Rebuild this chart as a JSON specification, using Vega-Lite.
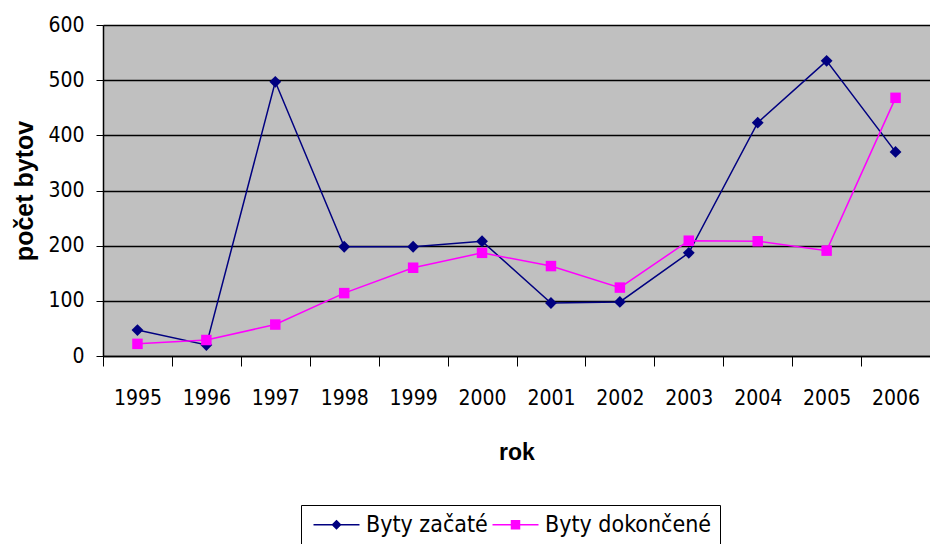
{
  "$schema": "https://vega.github.io/schema/vega-lite/v6.json",
  "autosize": "none",
  "width": 827,
  "height": 331,
  "padding": {"left": 103, "top": 25, "right": 0, "bottom": 188},
  "background": "white",
  "config": {
    "view": {"fill": "#c0c0c0", "stroke": "#a0a0a0"},
    "font": "DejaVu Sans Condensed"
  },
  "data": {
    "values": [
      {"rok": "1995", "seria": "Byty začaté", "pocet": 47},
      {"rok": "1996", "seria": "Byty začaté", "pocet": 20},
      {"rok": "1997", "seria": "Byty začaté", "pocet": 497},
      {"rok": "1998", "seria": "Byty začaté", "pocet": 198},
      {"rok": "1999", "seria": "Byty začaté", "pocet": 198},
      {"rok": "2000", "seria": "Byty začaté", "pocet": 208},
      {"rok": "2001", "seria": "Byty začaté", "pocet": 96},
      {"rok": "2002", "seria": "Byty začaté", "pocet": 98},
      {"rok": "2003", "seria": "Byty začaté", "pocet": 187},
      {"rok": "2004", "seria": "Byty začaté", "pocet": 423},
      {"rok": "2005", "seria": "Byty začaté", "pocet": 535},
      {"rok": "2006", "seria": "Byty začaté", "pocet": 370},
      {"rok": "1995", "seria": "Byty dokončené", "pocet": 22},
      {"rok": "1996", "seria": "Byty dokončené", "pocet": 29},
      {"rok": "1997", "seria": "Byty dokončené", "pocet": 57},
      {"rok": "1998", "seria": "Byty dokončené", "pocet": 114},
      {"rok": "1999", "seria": "Byty dokončené", "pocet": 160},
      {"rok": "2000", "seria": "Byty dokončené", "pocet": 187},
      {"rok": "2001", "seria": "Byty dokončené", "pocet": 163},
      {"rok": "2002", "seria": "Byty dokončené", "pocet": 124},
      {"rok": "2003", "seria": "Byty dokončené", "pocet": 209},
      {"rok": "2004", "seria": "Byty dokončené", "pocet": 208},
      {"rok": "2005", "seria": "Byty dokončené", "pocet": 191},
      {"rok": "2006", "seria": "Byty dokončené", "pocet": 468}
    ]
  },
  "encoding": {
    "x": {
      "field": "rok",
      "type": "ordinal",
      "bandPosition": 0.5,
      "scale": {"type": "band", "paddingInner": 0, "paddingOuter": 0},
      "axis": {
        "title": "rok",
        "titleFont": "Liberation Sans",
        "titleFontSize": 23,
        "titleFontWeight": "bold",
        "titleColor": "black",
        "titlePadding": 33,
        "labelAngle": 0,
        "labelFontSize": 21,
        "labelColor": "black",
        "labelPadding": 21,
        "tickBand": "extent",
        "tickSize": 10,
        "tickColor": "black",
        "domainColor": "black",
        "domainWidth": 1.5,
        "grid": false
      }
    },
    "y": {
      "field": "pocet",
      "type": "quantitative",
      "scale": {"domain": [0, 600], "nice": false},
      "axis": {
        "title": "počet bytov",
        "titleFont": "Liberation Sans",
        "titleFontSize": 25,
        "titleFontWeight": "bold",
        "titleColor": "black",
        "titlePadding": 10,
        "values": [0, 100, 200, 300, 400, 500, 600],
        "labelFontSize": 21,
        "labelColor": "black",
        "labelPadding": 12,
        "tickSize": 7,
        "tickColor": "black",
        "domainColor": "black",
        "domainWidth": 1.5,
        "grid": true,
        "gridColor": "black",
        "gridWidth": 1.5
      }
    },
    "color": {
      "field": "seria",
      "type": "nominal",
      "scale": {"domain": ["Byty začaté", "Byty dokončené"], "range": ["#000080", "#ff00ff"]},
      "legend": {
        "title": null,
        "orient": "none",
        "direction": "horizontal",
        "legendX": 198,
        "legendY": 480,
        "strokeColor": "black",
        "padding": 8,
        "labelFontSize": 23,
        "labelLimit": 400,
        "labelColor": "black",
        "labelOffset": 34,
        "columnPadding": -8,
        "symbolSize": 100,
        "encode": {
          "symbols": {
            "update": {
              "shape": {"signal": "datum.value === 'Byty začaté' ? 'M-1.4,0L7.8,0M3.2,-0.8L4,0L3.2,0.8L2.4,0Z' : 'M-1.4,0L7.8,0M2.4,-0.8L4,-0.8L4,0.8L2.4,0.8Z'"},
              "stroke": {"signal": "datum.value === 'Byty začaté' ? '#000080' : '#ff00ff'"},
              "fill": {"signal": "datum.value === 'Byty začaté' ? '#000080' : '#ff00ff'"},
              "strokeWidth": {"value": 1.5}
            }
          }
        }
      }
    }
  },
  "layer": [
    {
      "mark": {"type": "line", "strokeWidth": 1.5}
    },
    {
      "transform": [{"filter": "datum.seria === 'Byty začaté'"}],
      "mark": {"type": "point", "filled": true, "opacity": 1, "shape": "diamond", "size": 140}
    },
    {
      "transform": [{"filter": "datum.seria === 'Byty dokončené'"}],
      "mark": {"type": "point", "filled": true, "opacity": 1, "shape": "square", "size": 110}
    }
  ]
}
